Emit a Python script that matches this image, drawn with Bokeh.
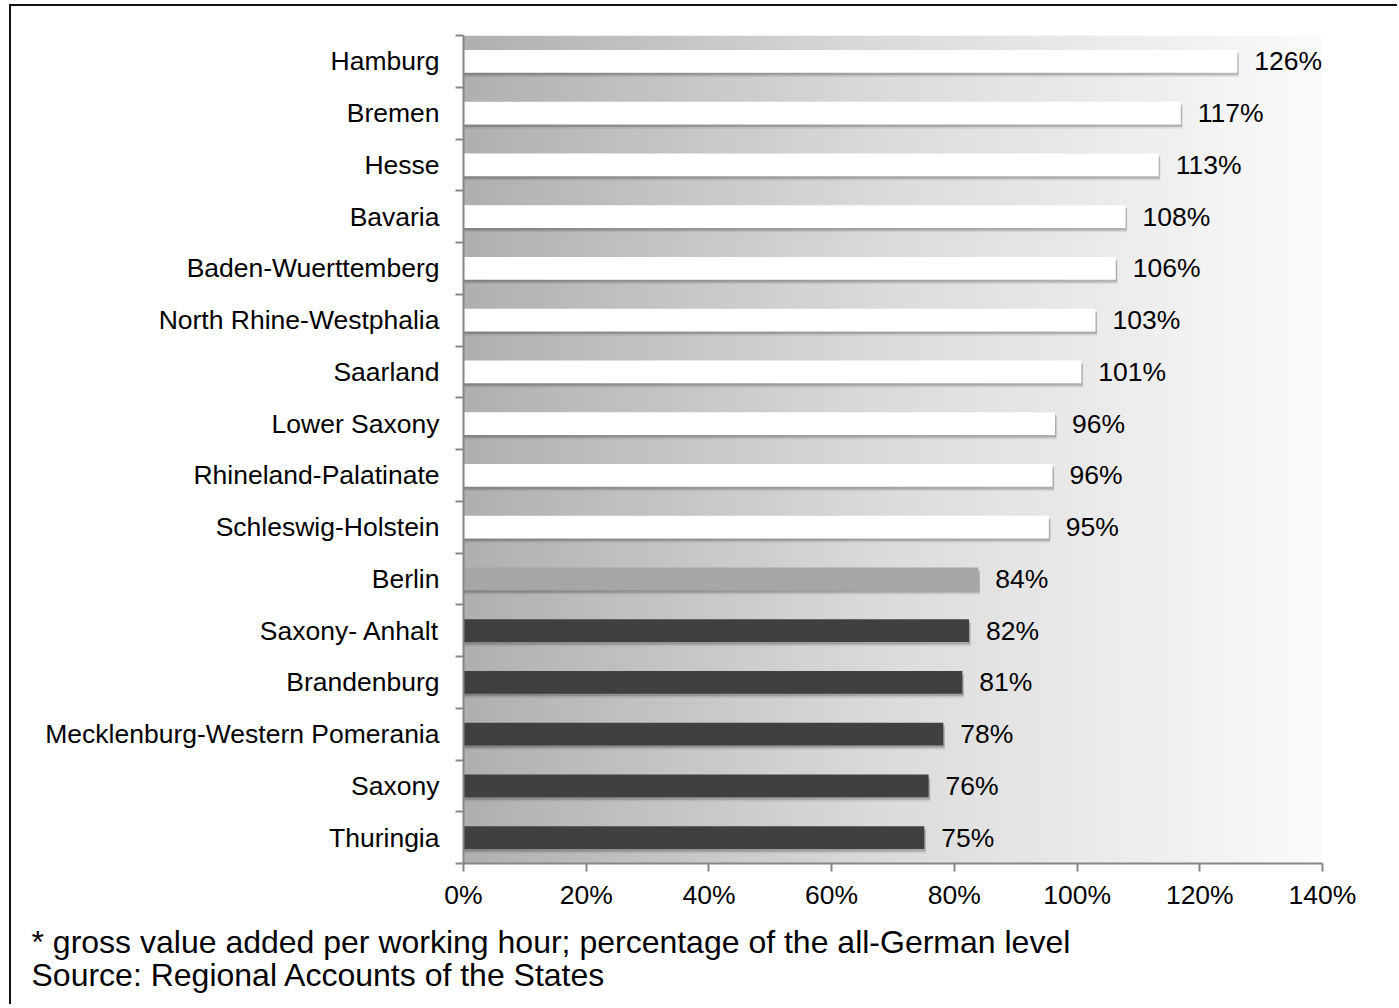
import numpy as np
from bokeh.plotting import figure
from bokeh.models import Range1d, FixedTicker, CustomJSTickFormatter, PrintfTickFormatter, Title, ColumnDataSource
from bokeh.core.properties import value
from bokeh.embed import file_html
from bokeh.resources import INLINE

# ---- data ----
states = ["Hamburg", "Bremen", "Hesse", "Bavaria", "Baden-Wuerttemberg",
          "North Rhine-Westphalia", "Saarland", "Lower Saxony",
          "Rhineland-Palatinate", "Schleswig-Holstein", "Berlin",
          "Saxony- Anhalt", "Brandenburg", "Mecklenburg-Western Pomerania",
          "Saxony", "Thuringia"]
values = [126.1, 116.9, 113.3, 107.9, 106.3, 103.0, 100.7, 96.4, 96.0, 95.4,
          83.9, 82.4, 81.3, 78.2, 75.8, 75.1]
bar_colors = ["#ffffff"] * 10 + ["#a6a6a6"] + ["#404040"] * 5
x_ticks = [0, 20, 40, 60, 80, 100, 120, 140]
footnote1 = "* gross value added per working hour; percentage of the all-German level"
footnote2 = "Source: Regional Accounts of the States"

FONT = "Liberation Sans"
FS = "26.5px"
n = len(states)
ypos = [n - i - 0.5 for i in range(n)]
labels = [f"{round(v)}%" for v in values]

src = ColumnDataSource(dict(
    y=ypos, v=values, c=bar_colors, lab=labels,
    ys1=[y - 0.05 for y in ypos], ys2=[y - 0.085 for y in ypos],
    vs=[v + 0.25 for v in values],
))

W, H = 1388, 1000
p = figure(width=W, height=H, x_range=Range1d(0, 140), y_range=Range1d(0, n),
           output_backend="svg", toolbar_location=None,
           min_border_left=452, min_border_right=77, min_border_top=29,
           min_border_bottom=143,
           styles={"border-left": "2px solid #111111",
                   "border-top": "2px solid #111111",
                   "margin-left": "9px", "margin-top": "4px"})
p.outline_line_color = None
p.xgrid.visible = False
p.ygrid.visible = False
p.background_fill_color = "white"
p.border_fill_color = "white"

# background gradient of the plot area
stops_x = [0.0, 0.5, 1.0]
stops_v = [176, 220, 251]
cols = 280
g = np.interp(np.linspace(0, 1, cols), stops_x, stops_v).astype(np.uint8)
img = np.zeros((1, cols), dtype=np.uint32)
view = img.view(dtype=np.uint8).reshape((1, cols, 4))
view[0, :, 0] = g
view[0, :, 1] = g
view[0, :, 2] = g
view[0, :, 3] = 255
p.image_rgba(image=[img], x=0, y=0, dw=140, dh=n)

# shadows
p.hbar(y="ys2", left=0, right="vs", height=0.435, source=src,
       fill_color="black", fill_alpha=0.08, line_color=None)
p.hbar(y="ys1", left=0, right="vs", height=0.435, source=src,
       fill_color="black", fill_alpha=0.18, line_color=None)
# bars
p.hbar(y="y", left=0, right="v", height=0.435, source=src,
       fill_color="c", line_color=None)
# value labels
p.text(x="v", y="y", text="lab", source=src, x_offset=17,
       text_baseline="middle", text_align="left",
       text_font=value(FONT), text_font_size=FS, text_color="black")

axis_col = "#868686"
# x axis
xa = p.xaxis[0]
xa.ticker = FixedTicker(ticks=x_ticks, minor_ticks=[])
xa.formatter = PrintfTickFormatter(format="%d%%")
xa.axis_line_color = axis_col
xa.axis_line_width = 2
xa.major_tick_line_color = axis_col
xa.major_tick_line_width = 2
xa.major_tick_out = 8
xa.major_tick_in = 0
xa.minor_tick_line_color = None
xa.major_label_text_font = FONT
xa.major_label_text_font_size = FS
xa.major_label_text_color = "black"
xa.major_label_standoff = 8

# y axis
ya = p.yaxis[0]
ya.ticker = FixedTicker(ticks=ypos, minor_ticks=list(range(n + 1)))
ya.formatter = CustomJSTickFormatter(args=dict(names=states, n=n),
                                     code="return names[n - 1 - Math.floor(tick)];")
ya.axis_line_color = axis_col
ya.axis_line_width = 2
ya.major_tick_line_color = None
ya.major_tick_out = 8
ya.major_tick_in = 0
ya.minor_tick_line_color = axis_col
ya.minor_tick_line_width = 2
ya.minor_tick_out = 8
ya.minor_tick_in = 0
ya.major_label_text_font = FONT
ya.major_label_text_font_size = FS
ya.major_label_text_color = "black"
ya.major_label_standoff = 16

# footnotes (below the x axis, aligned to the left edge of the picture)
p.add_layout(Title(text=footnote1 + "\n" + footnote2, align="left", offset=-432,
                   text_font=FONT, text_font_size="32px",
                   text_font_style="normal", text_color="black",
                   text_line_height=0.93, standoff=20), "below")

open("out.html", "w").write(file_html(p, INLINE))
